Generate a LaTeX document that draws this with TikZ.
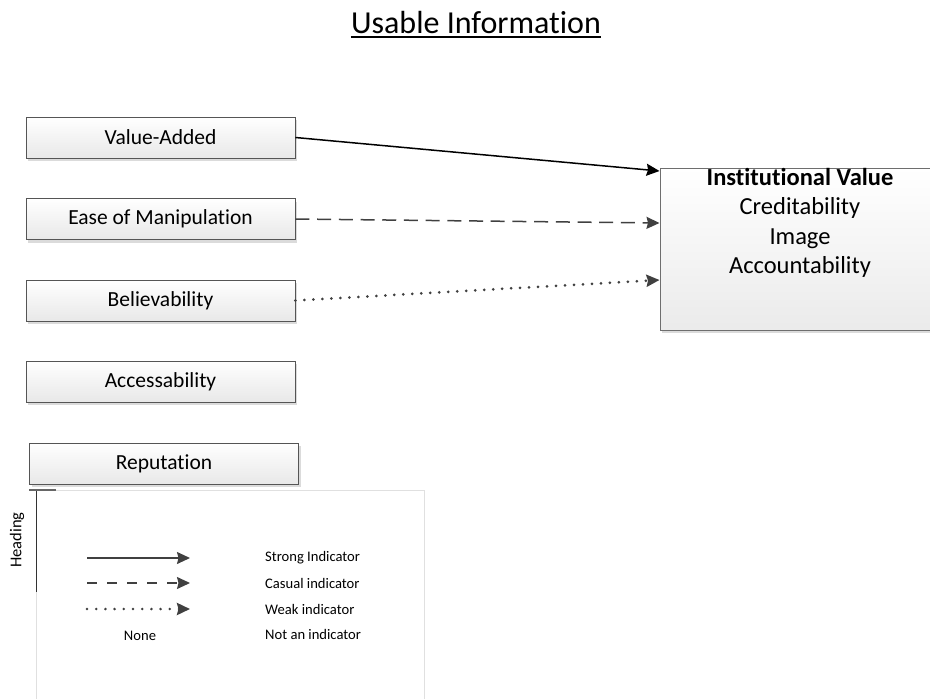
\documentclass[tikz,border=0pt]{standalone}
\usepackage{fontspec}
\setmainfont{Carlito}[Ligatures={NoCommon}]
\usetikzlibrary{arrows.meta,shadows}
\definecolor{edge}{HTML}{555555}
\definecolor{ink}{HTML}{404040}
\tikzset{
  factor/.style={draw=edge, line width=0.9pt, top color=white, bottom color=black!9,
    minimum width=269pt, minimum height=41pt, inner sep=0pt,
    font=\fontsize{21.5}{26}\selectfont,
    drop shadow={shadow xshift=2pt, shadow yshift=-3pt, fill=black!14, opacity=1}},
  target/.style={draw=edge!85, line width=1pt, top color=white, bottom color=black!8,
    minimum width=280pt, minimum height=162pt, inner sep=0pt,
    drop shadow={shadow xshift=2pt, shadow yshift=-3pt, fill=black!14, opacity=1}},
  tip/.style={-{Stealth[length=13pt,width=12pt,inset=1.5pt]}},
  strong/.style={tip, line width=1.5pt, draw=black},
  casual/.style={tip, line width=1.5pt, draw=ink, dash pattern=on 14pt off 7.7pt},
  weak/.style={tip, line width=3pt, draw=ink, line cap=round, dash pattern=on 0pt off 9pt},
  keystrong/.style={tip, line width=1.5pt, draw=ink},
  keycasual/.style={tip, line width=1.3pt, draw=ink, dash pattern=on 10pt off 10pt},
  keyweak/.style={tip, line width=2.8pt, draw=ink, line cap=round, dash pattern=on 0pt off 9.2pt},
  keytext/.style={anchor=west, inner sep=0pt, font=\fontsize{14.6}{17}\selectfont}
}
\begin{document}
\begin{tikzpicture}[x=1pt,y=-1pt]
\useasboundingbox (0,0) rectangle (930,699);

% title
\node[anchor=base, inner sep=0pt, font=\fontsize{32}{38}\selectfont] (title) at (476,33) {Usable Information};
\draw[line width=1.6pt] ([yshift=-4pt]title.base west) -- ([yshift=-4pt]title.base east);

% legend frame
\draw[black!12, line width=0.8pt] (36,490) rectangle (424,712);
\draw[black!80, line width=0.8pt] (36,490) -- (36,592);
\draw[black!60, line width=1.2pt] (29,490) -- (56,490);
\node[rotate=90, inner sep=0pt, font=\fontsize{16.5}{19}\selectfont] (heading) at (17,540) {Heading};

% factors
\node[factor] (va)  at (160.5,137.5) {Value-Added};
\node[factor] (eom) at (160.5,219)   {Ease of Manipulation};
\node[factor] (bel) at (160.5,300.5) {Believability};
\node[factor] (acc) at (160.5,381.5) {Accessability};
\node[factor] (rep) at (164,463.5)   {Reputation};

% institutional value
\node[target] (iv) at (800,249) {};
\node[align=center, inner sep=0pt, font=\fontsize{24.5}{29.5}\selectfont] (ivtext) at (800,223)
  {\textbf{Institutional Value}\\Creditability\\Image\\Accountability};

% indicators
\draw[strong] (va.east)  -- ([yshift=78pt]iv.west);
\draw[casual] (eom.east) -- ([yshift=26pt]iv.west);
\draw[weak]   (bel.east) -- ([yshift=-31pt]iv.west);

% legend entries
\coordinate (k1a) at (87,558);  \coordinate (k1b) at (190,558);
\coordinate (k2a) at (87,583);  \coordinate (k2b) at (190,583);
\coordinate (k3a) at (87,609);  \coordinate (k3b) at (190,609);
\draw[keystrong] (k1a) -- (k1b);
\draw[keycasual] (k2a) -- (k2b);
\draw[keyweak]   (k3a) -- (k3b);
\node[keytext] (t1) at (265,558) {Strong Indicator};
\node[keytext] (t2) at (265,583) {Casual indicator};
\node[keytext] (t3) at (265,609) {Weak indicator};
\node[keytext] (t4) at (265,634) {Not an indicator};
\node[inner sep=0pt, font=\fontsize{14.6}{17}\selectfont] (none) at (140,636) {None};
\end{tikzpicture}
\end{document}
